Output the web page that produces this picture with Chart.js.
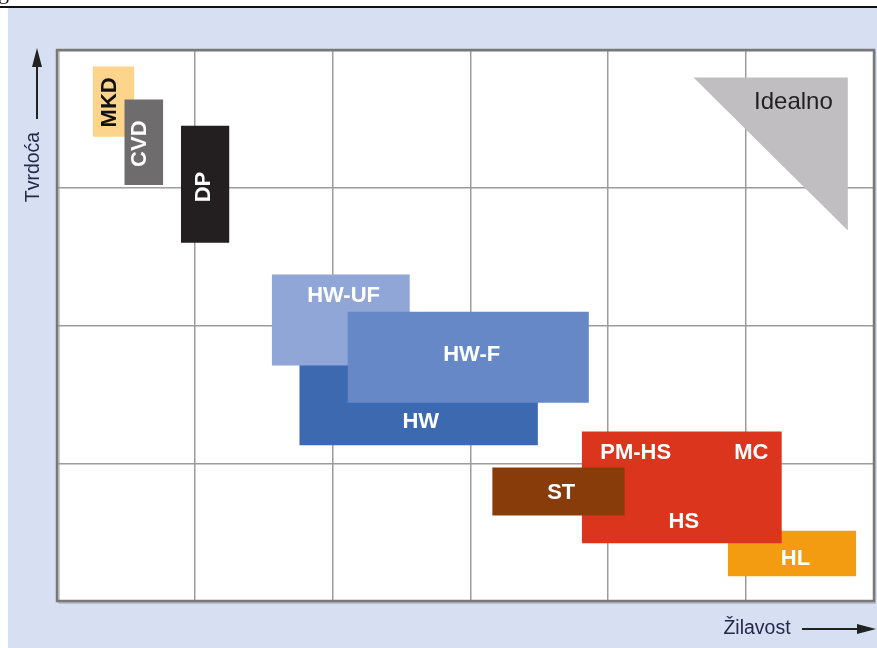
<!DOCTYPE html>
<html>
<head>
<meta charset="utf-8">
<script src="https://cdn.jsdelivr.net/npm/chart.js@4"></script>
<style>
  html, body { margin: 0; padding: 0; background: #fff; }
  #wrap { width: 877px; height: 648px; position: relative; }
</style>
</head>
<body>
<div id="wrap"><canvas id="chart"></canvas></div>
<script>
// materijali, od donjeg prema gornjem sloju
const materials = ['MKD', 'CVD', 'DP', 'HW', 'HW-UF', 'HW-F', 'HL', 'HS', 'ST'];
const toughFrom = [0.26, 0.49, 0.90, 1.76, 1.56, 2.11, 4.87, 3.81, 3.16];
const toughTo   = [0.56, 0.77, 1.25, 3.49, 2.56, 3.86, 5.80, 5.26, 4.12];
const hardFrom  = [3.37, 3.02, 2.60, 1.13, 1.71, 1.44, 0.18, 0.42, 0.62];
const hardTo    = [3.88, 3.64, 3.45, 1.75, 2.37, 2.10, 0.51, 1.23, 0.97];
const colors = ['#fdd48b', '#6e6c6c', '#231f20', '#3d69b1', '#8fa6d6', '#6688c7', '#f39c12', '#dc351e', '#873c0a'];

// trokut "Idealno"
const idealX = [4.62, 5.74, 5.74];
const idealY = [3.80, 3.80, 2.69];

// natpisi
const labels      = ['MKD', 'CVD', 'DP', 'HW-UF', 'HW-F', 'HW', 'PM-HS', 'MC', 'HS', 'ST', 'HL'];
const labelX      = [0.378, 0.596, 1.06, 2.08, 3.01, 2.64, 4.20, 5.04, 4.55, 3.66, 5.36];
const labelY      = [3.62, 3.32, 3.005, 2.22, 1.79, 1.31, 1.08, 1.08, 0.58, 0.79, 0.31];
const labelColor  = ['#111', '#fff', '#fff', '#fff', '#fff', '#fff', '#fff', '#fff', '#fff', '#fff', '#fff'];
const labelUp     = [true, true, true, false, false, false, false, false, false, false, false];

const xTitle = 'Žilavost';
const yTitle = 'Tvrdoća';
const idealText = 'Idealno';

let datasets = [];
datasets.push({
  label: idealText,
  data: idealX.map((v, i) => ({ x: v, y: idealY[i] })).concat([{ x: idealX[0], y: idealY[0] }]),
  backgroundColor: '#c0bec0'
});
materials.forEach((m, i) => {
  datasets.push({
    label: m,
    data: [
      { x: toughFrom[i], y: hardFrom[i] },
      { x: toughTo[i], y: hardFrom[i] },
      { x: toughTo[i], y: hardTo[i] },
      { x: toughFrom[i], y: hardTo[i] },
      { x: toughFrom[i], y: hardFrom[i] }
    ],
    backgroundColor: colors[i]
  });
});
datasets = datasets.map(d => Object.assign(d, {
  showLine: true,
  fill: 'shape',
  borderWidth: 0,
  borderColor: 'rgba(0,0,0,0)',
  pointRadius: 0,
  pointHoverRadius: 0,
  tension: 0
})).reverse(); // prvi dataset se crta zadnji (na vrhu)

const frame = {
  id: 'frame',
  beforeDraw(chart) {
    const { ctx, chartArea: a } = chart;
    ctx.save();
    ctx.fillStyle = '#fff';
    ctx.fillRect(0, 0, chart.width, chart.height);
    ctx.fillStyle = '#111';
    ctx.font = '22px "Liberation Serif", serif';
    ctx.textBaseline = 'alphabetic';
    ctx.fillText('g', -2, -1);
    ctx.fillRect(0, 6, chart.width, 2);
    ctx.fillStyle = '#d7e0f3';
    ctx.fillRect(8, 8, chart.width - 8, chart.height - 8);
    ctx.fillStyle = '#fff';
    ctx.fillRect(a.left, a.top, a.right - a.left, a.bottom - a.top);
    ctx.restore();
  },
  afterDatasetsDraw(chart) {
    const { ctx, chartArea: a, scales: { x, y } } = chart;
    ctx.save();
    // okvir
    ctx.strokeStyle = '#9a9a9a';
    ctx.lineWidth = 1;
    ctx.strokeRect(a.left + 2, a.top + 1, a.right - a.left - 1, a.bottom - a.top + 1);
    ctx.strokeStyle = '#787878';
    ctx.lineWidth = 2.5;
    ctx.strokeRect(a.left, a.top, a.right - a.left, a.bottom - a.top);

    // natpisi u poljima
    ctx.textAlign = 'center';
    ctx.textBaseline = 'middle';
    labels.forEach((t, i) => {
      ctx.save();
      ctx.font = 'bold 22px "Liberation Sans", Arial, sans-serif';
      ctx.fillStyle = labelColor[i];
      ctx.translate(x.getPixelForValue(labelX[i]), y.getPixelForValue(labelY[i]));
      if (labelUp[i]) ctx.rotate(-Math.PI / 2);
      ctx.fillText(t, 0, 1);
      ctx.restore();
    });
    ctx.font = '24px "Liberation Sans", Arial, sans-serif';
    ctx.fillStyle = '#222';
    ctx.fillText(idealText, x.getPixelForValue(5.345), y.getPixelForValue(3.62));

    // naslovi osi sa strelicama
    ctx.fillStyle = '#26284a';
    ctx.font = '19.5px "Liberation Sans", Arial, sans-serif';
    ctx.save();
    ctx.translate(34, 167);
    ctx.rotate(-Math.PI / 2);
    ctx.fillText(yTitle, 0, 0);
    ctx.restore();
    ctx.fillText(xTitle, 757, 629);

    ctx.strokeStyle = '#222';
    ctx.fillStyle = '#222';
    ctx.lineWidth = 2;
    ctx.beginPath();
    ctx.moveTo(37, 119); ctx.lineTo(37, 62);
    ctx.moveTo(802, 629); ctx.lineTo(860, 629);
    ctx.stroke();
    ctx.beginPath();
    ctx.moveTo(37, 48); ctx.lineTo(32, 67); ctx.lineTo(42, 67); ctx.closePath();
    ctx.moveTo(876, 629); ctx.lineTo(857, 624); ctx.lineTo(857, 634); ctx.closePath();
    ctx.fill();
    ctx.restore();
  }
};

new Chart(document.getElementById('chart'), {
  type: 'scatter',
  data: { datasets: datasets },
  options: {
    responsive: true,
    maintainAspectRatio: false,
    animation: false,
    layout: { padding: { left: 57, top: 50, right: 3, bottom: 47 } },
    plugins: {
      legend: { display: false },
      tooltip: { enabled: false },
      filler: { propagate: false }
    },
    scales: {
      x: {
        type: 'linear', min: 0, max: 5.93,
        ticks: { display: false, stepSize: 1, includeBounds: false },
        grid: { color: '#9c9c9c', lineWidth: 1.5, drawTicks: false },
        border: { display: false },
        afterFit: s => { s.height = 0; }
      },
      y: {
        type: 'linear', min: 0, max: 4,
        ticks: { display: false, stepSize: 1, includeBounds: false },
        grid: { color: '#9c9c9c', lineWidth: 1.5, drawTicks: false },
        border: { display: false },
        afterFit: s => { s.width = 0; }
      }
    }
  },
  plugins: [frame]
});
</script>
</body>
</html>
